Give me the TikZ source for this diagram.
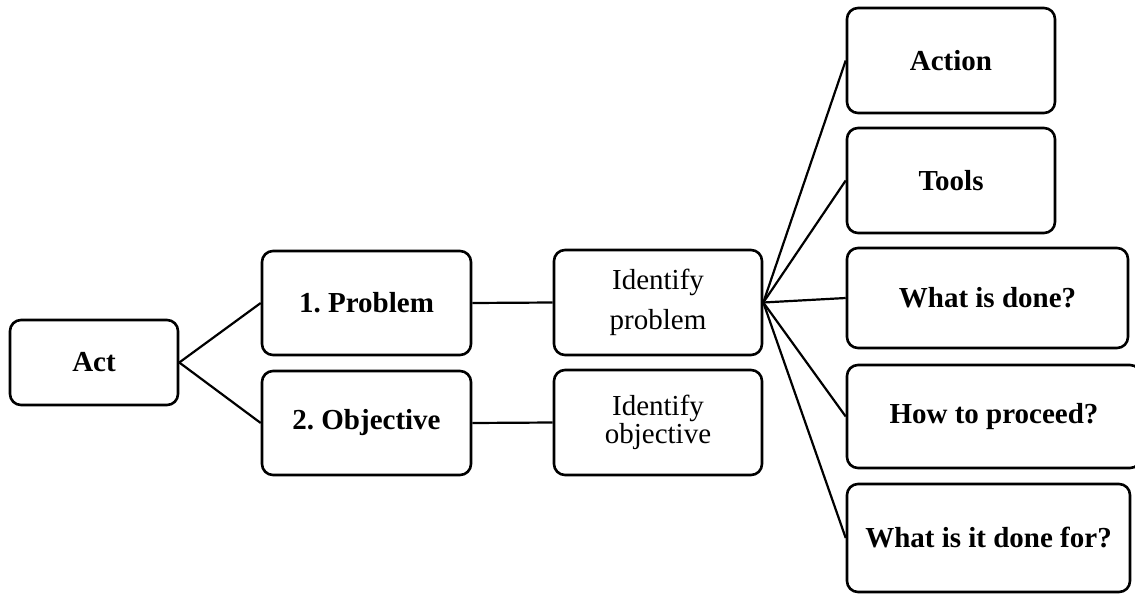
\documentclass[tikz,border=0pt]{standalone}
\usepackage{fontspec}
\setmainfont{Liberation Serif}
\begin{document}
\frenchspacing
\begin{tikzpicture}[x=1pt,y=-1pt,
  box/.style={draw=black,line width=2.6pt,rounded corners=11pt,inner sep=0pt,align=center,font=\fontsize{29}{34}\selectfont},
  bbox/.style={box,font=\fontsize{29}{34}\selectfont\bfseries},
  link/.style={draw=black,line width=2.2pt}]
\useasboundingbox (0,0) rectangle (1135,594);
\node[bbox,minimum width=168pt,minimum height=85pt] (act) at (94,362.5) {Act};
\node[bbox,minimum width=209pt,minimum height=104pt] (prob) at (366.5,303) {1. Problem};
\node[bbox,minimum width=209pt,minimum height=104pt] (obj) at (366.5,423) {2. Objective};
\node[box,minimum width=208pt,minimum height=105pt] (idp) at (658,302.5) {Identify\\[6pt]problem};
\node[box,minimum width=208pt,minimum height=105pt] (ido) at (658,422.5) {Identify\\[-6pt]objective};
\node[bbox,minimum width=208pt,minimum height=105pt] (action) at (951,60.5) {Action};
\node[bbox,minimum width=208pt,minimum height=105pt] (tools) at (951,180.5) {Tools};
\node[bbox,minimum width=281pt,minimum height=100pt] (done) at (987.5,298) {What is done?};
\node[bbox,minimum width=294pt,minimum height=103pt] (how) at (994,416.5) {How to proceed?};
\node[bbox,minimum width=283pt,minimum height=108pt] (for) at (988.5,538) {What is it done for?};
\draw[link] (act.east) -- (prob.west);
\draw[link] (act.east) -- (obj.west);
\draw[link] (prob.east) -- (idp.west);
\draw[link] (obj.east) -- (ido.west);
\foreach \t in {action,tools,done,how,for}
  \draw[link] (idp.east) -- (\t.west);
\end{tikzpicture}
\end{document}
